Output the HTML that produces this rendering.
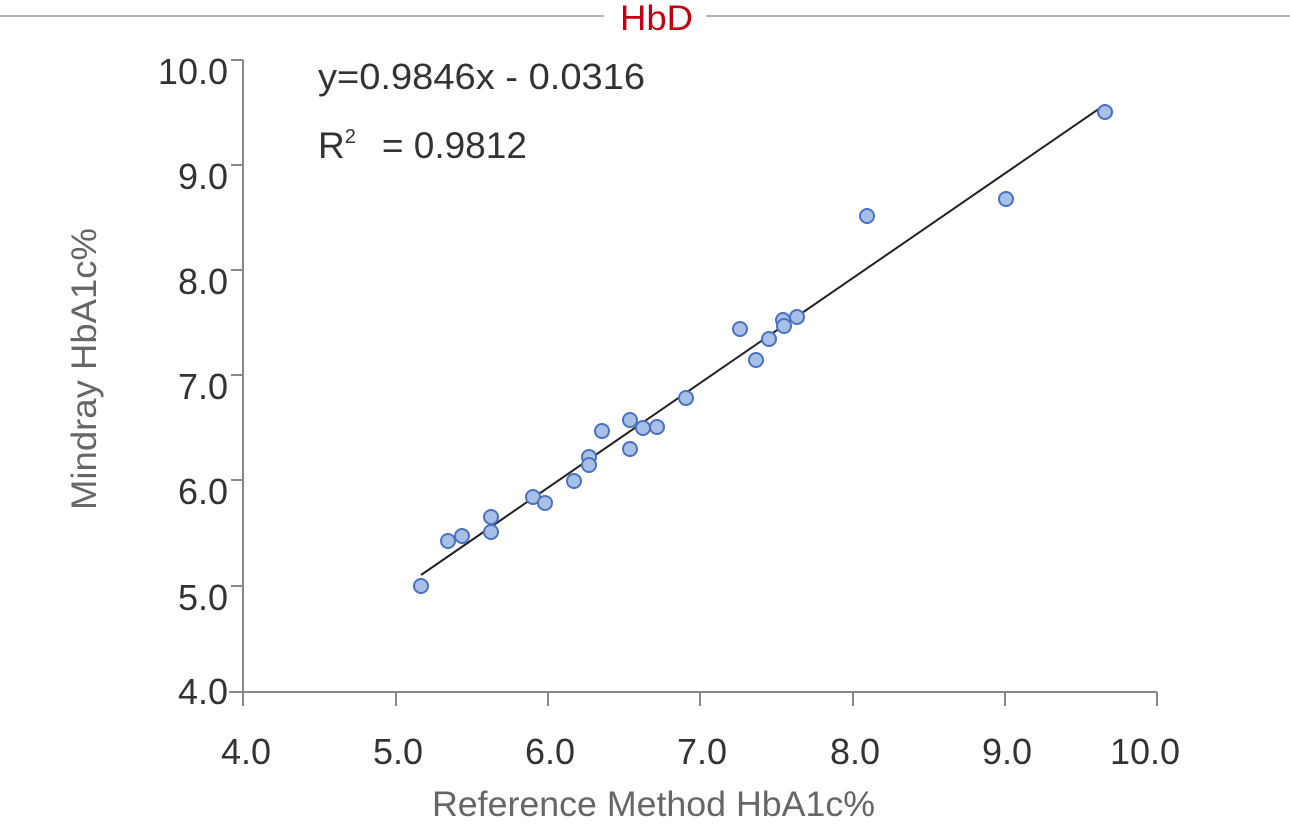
<!DOCTYPE html>
<html><head><style>body{margin:0;background:#fff}svg{display:block}</style></head><body>
<svg width="1290" height="826" xmlns="http://www.w3.org/2000/svg" font-family="'Liberation Sans',sans-serif">
<line x1="0" y1="16" x2="604" y2="16" stroke="#999" stroke-width="1.5"/>
<line x1="706" y1="16" x2="1290" y2="16" stroke="#999" stroke-width="1.5"/>
<text x="620" y="30" font-size="35" fill="#c00010" textLength="73" lengthAdjust="spacingAndGlyphs">HbD</text>
<g stroke="#888" stroke-width="2" fill="none">
<line x1="243" y1="60" x2="243" y2="692"/>
<line x1="229" y1="692" x2="1157" y2="692"/>
<line x1="231" y1="60" x2="243" y2="60"/><line x1="231" y1="165" x2="243" y2="165"/><line x1="231" y1="270" x2="243" y2="270"/><line x1="231" y1="375" x2="243" y2="375"/><line x1="231" y1="480" x2="243" y2="480"/><line x1="231" y1="586" x2="243" y2="586"/>
<line x1="243" y1="692" x2="243" y2="706"/><line x1="396" y1="692" x2="396" y2="706"/><line x1="548" y1="692" x2="548" y2="706"/><line x1="700" y1="692" x2="700" y2="706"/><line x1="853" y1="692" x2="853" y2="706"/><line x1="1005" y1="692" x2="1005" y2="706"/><line x1="1157" y1="692" x2="1157" y2="706"/>
</g>
<g font-size="36" fill="#333" text-anchor="end">
<text x="228" y="84">10.0</text><text x="228" y="189">9.0</text><text x="228" y="294">8.0</text><text x="228" y="399">7.0</text><text x="228" y="504">6.0</text><text x="228" y="610">5.0</text><text x="228" y="704">4.0</text>
</g>
<g font-size="36" fill="#333" text-anchor="middle">
<text x="246" y="764">4.0</text><text x="398" y="764">5.0</text><text x="550" y="764">6.0</text><text x="702" y="764">7.0</text><text x="855" y="764">8.0</text><text x="1007" y="764">9.0</text><text x="1145" y="764">10.0</text>
</g>
<text x="432" y="816" font-size="35" fill="#666" textLength="443" lengthAdjust="spacingAndGlyphs">Reference Method HbA1c%</text>
<text transform="translate(96,510) rotate(-90)" font-size="35" fill="#666" textLength="282" lengthAdjust="spacingAndGlyphs">Mindray HbA1c%</text>
<text x="318" y="89" font-size="36" fill="#333" textLength="327" lengthAdjust="spacingAndGlyphs">y=0.9846x - 0.0316</text>
<text x="318" y="158" font-size="37" fill="#333">R<tspan font-size="20" dy="-15">2</tspan><tspan dy="15" dx="26">= 0.9812</tspan></text>
<line x1="421" y1="575" x2="1103" y2="106" stroke="#222" stroke-width="2"/>
<g fill="#a8c0e8" stroke="#4a72c0" stroke-width="2">
<circle cx="421" cy="586" r="7"/><circle cx="448" cy="541" r="7"/><circle cx="462" cy="536" r="7"/><circle cx="491" cy="517" r="7"/><circle cx="491" cy="532" r="7"/><circle cx="533" cy="497" r="7"/><circle cx="545" cy="503" r="7"/><circle cx="574" cy="481" r="7"/><circle cx="589" cy="457" r="7"/><circle cx="589" cy="465" r="7"/><circle cx="602" cy="431" r="7"/><circle cx="630" cy="420" r="7"/><circle cx="630" cy="449" r="7"/><circle cx="643" cy="428" r="7"/><circle cx="657" cy="427" r="7"/><circle cx="686" cy="398" r="7"/><circle cx="740" cy="329" r="7"/><circle cx="756" cy="360" r="7"/><circle cx="769" cy="339" r="7"/><circle cx="783" cy="320" r="7"/><circle cx="784" cy="326" r="7"/><circle cx="797" cy="317" r="7"/><circle cx="867" cy="216" r="7"/><circle cx="1006" cy="199" r="7"/><circle cx="1105" cy="112" r="7"/>
</g>
</svg>
</body></html>
